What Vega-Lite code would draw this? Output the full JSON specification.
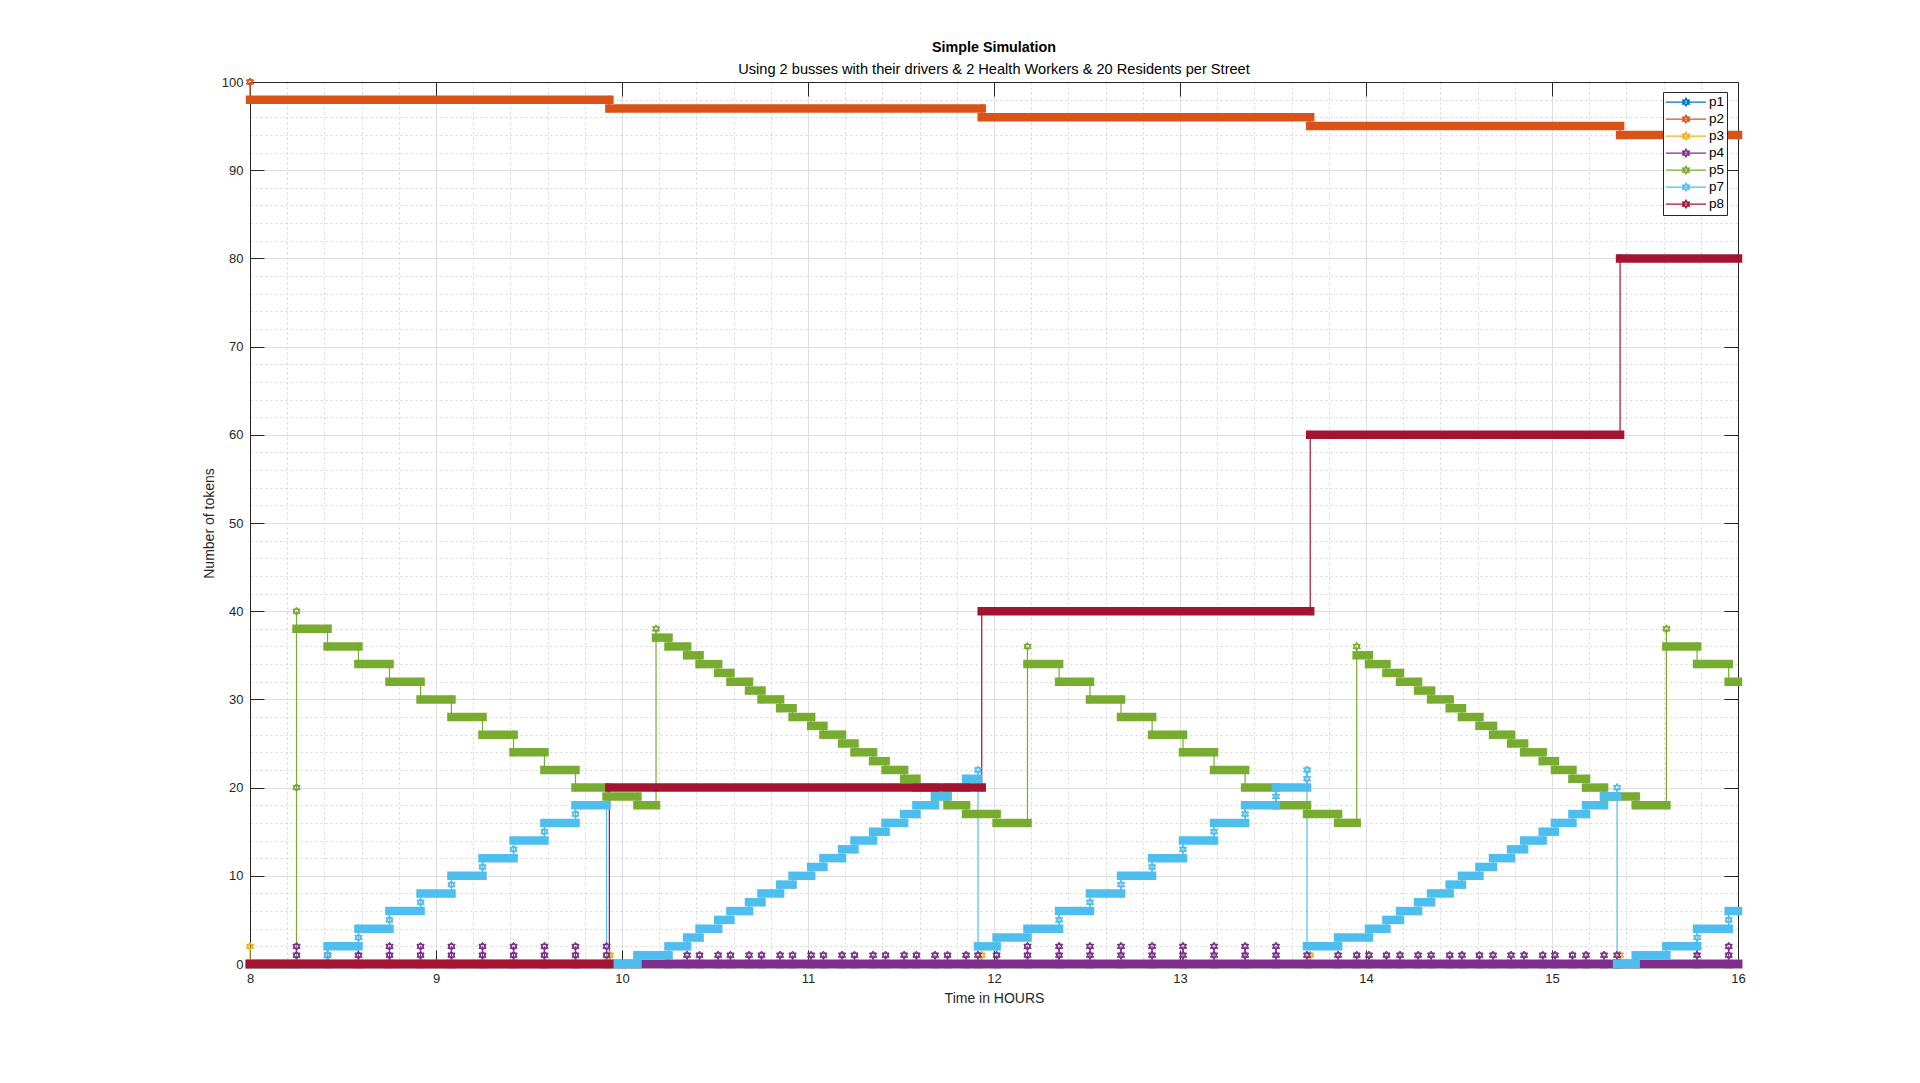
{
 "$schema": "https://vega.github.io/schema/vega-lite/v6.json",
 "width": 1488, "height": 882,
 "autosize": {"type": "none"},
 "padding": {"left": 250, "top": 82, "right": 182, "bottom": 119},
 "background": "white",
 "title": {"text": "Simple Simulation", "subtitle": "Using 2 busses with their drivers & 2 Health Workers & 20 Residents per Street", "anchor": "middle", "font": "Liberation Sans", "fontSize": 14.3, "fontWeight": "bold", "color": "#000000", "subtitleFont": "Liberation Sans", "subtitleFontSize": 14.6, "subtitleColor": "#000000", "subtitlePadding": 7, "offset": -1},
 "data": {"values": [
  {"s":"p1","i":0,"a":8,"b":16,"v":0},
  {"s":"p2","i":0,"a":8,"b":8,"v":100},
  {"s":"p2","i":1,"a":8,"b":9.932,"v":98},
  {"s":"p2","i":2,"a":9.932,"b":11.934,"v":97},
  {"s":"p2","i":3,"a":11.934,"b":13.7,"v":96},
  {"s":"p2","i":4,"a":13.7,"b":15.366,"v":95},
  {"s":"p2","i":5,"a":15.366,"b":16,"v":94},
  {"s":"p3","i":0,"a":8,"b":8,"v":2},
  {"s":"p3","i":1,"a":8,"b":9.935,"v":0},
  {"s":"p3","i":2,"a":9.935,"b":9.935,"v":1},
  {"s":"p3","i":3,"a":9.935,"b":11.934,"v":0},
  {"s":"p3","i":4,"a":11.934,"b":11.934,"v":1},
  {"s":"p3","i":5,"a":11.934,"b":13.7,"v":0},
  {"s":"p3","i":6,"a":13.7,"b":13.7,"v":1},
  {"s":"p3","i":7,"a":13.7,"b":15.366,"v":0},
  {"s":"p3","i":8,"a":15.366,"b":15.366,"v":1},
  {"s":"p3","i":9,"a":15.366,"b":16,"v":0},
  {"s":"p4","i":0,"a":8,"b":8.25,"v":0},
  {"s":"p4","i":1,"a":8.25,"b":8.25,"v":1},
  {"s":"p4","i":2,"a":8.25,"b":8.25,"v":2},
  {"s":"p4","i":3,"a":8.25,"b":8.417,"v":0},
  {"s":"p4","i":4,"a":8.417,"b":8.417,"v":1},
  {"s":"p4","i":5,"a":8.417,"b":8.417,"v":2},
  {"s":"p4","i":6,"a":8.417,"b":8.583,"v":0},
  {"s":"p4","i":7,"a":8.583,"b":8.583,"v":1},
  {"s":"p4","i":8,"a":8.583,"b":8.583,"v":2},
  {"s":"p4","i":9,"a":8.583,"b":8.75,"v":0},
  {"s":"p4","i":10,"a":8.75,"b":8.75,"v":1},
  {"s":"p4","i":11,"a":8.75,"b":8.75,"v":2},
  {"s":"p4","i":12,"a":8.75,"b":8.917,"v":0},
  {"s":"p4","i":13,"a":8.917,"b":8.917,"v":1},
  {"s":"p4","i":14,"a":8.917,"b":8.917,"v":2},
  {"s":"p4","i":15,"a":8.917,"b":9.083,"v":0},
  {"s":"p4","i":16,"a":9.083,"b":9.083,"v":1},
  {"s":"p4","i":17,"a":9.083,"b":9.083,"v":2},
  {"s":"p4","i":18,"a":9.083,"b":9.25,"v":0},
  {"s":"p4","i":19,"a":9.25,"b":9.25,"v":1},
  {"s":"p4","i":20,"a":9.25,"b":9.25,"v":2},
  {"s":"p4","i":21,"a":9.25,"b":9.417,"v":0},
  {"s":"p4","i":22,"a":9.417,"b":9.417,"v":1},
  {"s":"p4","i":23,"a":9.417,"b":9.417,"v":2},
  {"s":"p4","i":24,"a":9.417,"b":9.583,"v":0},
  {"s":"p4","i":25,"a":9.583,"b":9.583,"v":1},
  {"s":"p4","i":26,"a":9.583,"b":9.583,"v":2},
  {"s":"p4","i":27,"a":9.583,"b":9.75,"v":0},
  {"s":"p4","i":28,"a":9.75,"b":9.75,"v":1},
  {"s":"p4","i":29,"a":9.75,"b":9.75,"v":2},
  {"s":"p4","i":30,"a":9.75,"b":9.917,"v":0},
  {"s":"p4","i":31,"a":9.917,"b":9.917,"v":1},
  {"s":"p4","i":32,"a":9.917,"b":9.917,"v":2},
  {"s":"p4","i":33,"a":9.917,"b":10.25,"v":0},
  {"s":"p4","i":34,"a":10.25,"b":10.25,"v":1},
  {"s":"p4","i":35,"a":10.25,"b":10.35,"v":0},
  {"s":"p4","i":36,"a":10.35,"b":10.35,"v":1},
  {"s":"p4","i":37,"a":10.35,"b":10.417,"v":0},
  {"s":"p4","i":38,"a":10.417,"b":10.417,"v":1},
  {"s":"p4","i":39,"a":10.417,"b":10.517,"v":0},
  {"s":"p4","i":40,"a":10.517,"b":10.517,"v":1},
  {"s":"p4","i":41,"a":10.517,"b":10.583,"v":0},
  {"s":"p4","i":42,"a":10.583,"b":10.583,"v":1},
  {"s":"p4","i":43,"a":10.583,"b":10.683,"v":0},
  {"s":"p4","i":44,"a":10.683,"b":10.683,"v":1},
  {"s":"p4","i":45,"a":10.683,"b":10.75,"v":0},
  {"s":"p4","i":46,"a":10.75,"b":10.75,"v":1},
  {"s":"p4","i":47,"a":10.75,"b":10.85,"v":0},
  {"s":"p4","i":48,"a":10.85,"b":10.85,"v":1},
  {"s":"p4","i":49,"a":10.85,"b":10.917,"v":0},
  {"s":"p4","i":50,"a":10.917,"b":10.917,"v":1},
  {"s":"p4","i":51,"a":10.917,"b":11.017,"v":0},
  {"s":"p4","i":52,"a":11.017,"b":11.017,"v":1},
  {"s":"p4","i":53,"a":11.017,"b":11.083,"v":0},
  {"s":"p4","i":54,"a":11.083,"b":11.083,"v":1},
  {"s":"p4","i":55,"a":11.083,"b":11.183,"v":0},
  {"s":"p4","i":56,"a":11.183,"b":11.183,"v":1},
  {"s":"p4","i":57,"a":11.183,"b":11.25,"v":0},
  {"s":"p4","i":58,"a":11.25,"b":11.25,"v":1},
  {"s":"p4","i":59,"a":11.25,"b":11.35,"v":0},
  {"s":"p4","i":60,"a":11.35,"b":11.35,"v":1},
  {"s":"p4","i":61,"a":11.35,"b":11.417,"v":0},
  {"s":"p4","i":62,"a":11.417,"b":11.417,"v":1},
  {"s":"p4","i":63,"a":11.417,"b":11.517,"v":0},
  {"s":"p4","i":64,"a":11.517,"b":11.517,"v":1},
  {"s":"p4","i":65,"a":11.517,"b":11.583,"v":0},
  {"s":"p4","i":66,"a":11.583,"b":11.583,"v":1},
  {"s":"p4","i":67,"a":11.583,"b":11.683,"v":0},
  {"s":"p4","i":68,"a":11.683,"b":11.683,"v":1},
  {"s":"p4","i":69,"a":11.683,"b":11.75,"v":0},
  {"s":"p4","i":70,"a":11.75,"b":11.75,"v":1},
  {"s":"p4","i":71,"a":11.75,"b":11.85,"v":0},
  {"s":"p4","i":72,"a":11.85,"b":11.85,"v":1},
  {"s":"p4","i":73,"a":11.85,"b":11.914,"v":0},
  {"s":"p4","i":74,"a":11.914,"b":11.914,"v":1},
  {"s":"p4","i":75,"a":11.914,"b":12.014,"v":0},
  {"s":"p4","i":76,"a":12.014,"b":12.014,"v":1},
  {"s":"p4","i":77,"a":12.014,"b":12.18,"v":0},
  {"s":"p4","i":78,"a":12.18,"b":12.18,"v":1},
  {"s":"p4","i":79,"a":12.18,"b":12.18,"v":2},
  {"s":"p4","i":80,"a":12.18,"b":12.35,"v":0},
  {"s":"p4","i":81,"a":12.35,"b":12.35,"v":1},
  {"s":"p4","i":82,"a":12.35,"b":12.35,"v":2},
  {"s":"p4","i":83,"a":12.35,"b":12.516,"v":0},
  {"s":"p4","i":84,"a":12.516,"b":12.516,"v":1},
  {"s":"p4","i":85,"a":12.516,"b":12.516,"v":2},
  {"s":"p4","i":86,"a":12.516,"b":12.683,"v":0},
  {"s":"p4","i":87,"a":12.683,"b":12.683,"v":1},
  {"s":"p4","i":88,"a":12.683,"b":12.683,"v":2},
  {"s":"p4","i":89,"a":12.683,"b":12.85,"v":0},
  {"s":"p4","i":90,"a":12.85,"b":12.85,"v":1},
  {"s":"p4","i":91,"a":12.85,"b":12.85,"v":2},
  {"s":"p4","i":92,"a":12.85,"b":13.016,"v":0},
  {"s":"p4","i":93,"a":13.016,"b":13.016,"v":1},
  {"s":"p4","i":94,"a":13.016,"b":13.016,"v":2},
  {"s":"p4","i":95,"a":13.016,"b":13.183,"v":0},
  {"s":"p4","i":96,"a":13.183,"b":13.183,"v":1},
  {"s":"p4","i":97,"a":13.183,"b":13.183,"v":2},
  {"s":"p4","i":98,"a":13.183,"b":13.35,"v":0},
  {"s":"p4","i":99,"a":13.35,"b":13.35,"v":1},
  {"s":"p4","i":100,"a":13.35,"b":13.35,"v":2},
  {"s":"p4","i":101,"a":13.35,"b":13.516,"v":0},
  {"s":"p4","i":102,"a":13.516,"b":13.516,"v":1},
  {"s":"p4","i":103,"a":13.516,"b":13.516,"v":2},
  {"s":"p4","i":104,"a":13.516,"b":13.683,"v":0},
  {"s":"p4","i":105,"a":13.683,"b":13.683,"v":1},
  {"s":"p4","i":106,"a":13.683,"b":13.85,"v":0},
  {"s":"p4","i":107,"a":13.85,"b":13.85,"v":1},
  {"s":"p4","i":108,"a":13.85,"b":13.95,"v":0},
  {"s":"p4","i":109,"a":13.95,"b":13.95,"v":1},
  {"s":"p4","i":110,"a":13.95,"b":14.016,"v":0},
  {"s":"p4","i":111,"a":14.016,"b":14.016,"v":1},
  {"s":"p4","i":112,"a":14.016,"b":14.11,"v":0},
  {"s":"p4","i":113,"a":14.11,"b":14.11,"v":1},
  {"s":"p4","i":114,"a":14.11,"b":14.183,"v":0},
  {"s":"p4","i":115,"a":14.183,"b":14.183,"v":1},
  {"s":"p4","i":116,"a":14.183,"b":14.28,"v":0},
  {"s":"p4","i":117,"a":14.28,"b":14.28,"v":1},
  {"s":"p4","i":118,"a":14.28,"b":14.35,"v":0},
  {"s":"p4","i":119,"a":14.35,"b":14.35,"v":1},
  {"s":"p4","i":120,"a":14.35,"b":14.45,"v":0},
  {"s":"p4","i":121,"a":14.45,"b":14.45,"v":1},
  {"s":"p4","i":122,"a":14.45,"b":14.516,"v":0},
  {"s":"p4","i":123,"a":14.516,"b":14.516,"v":1},
  {"s":"p4","i":124,"a":14.516,"b":14.61,"v":0},
  {"s":"p4","i":125,"a":14.61,"b":14.61,"v":1},
  {"s":"p4","i":126,"a":14.61,"b":14.683,"v":0},
  {"s":"p4","i":127,"a":14.683,"b":14.683,"v":1},
  {"s":"p4","i":128,"a":14.683,"b":14.78,"v":0},
  {"s":"p4","i":129,"a":14.78,"b":14.78,"v":1},
  {"s":"p4","i":130,"a":14.78,"b":14.85,"v":0},
  {"s":"p4","i":131,"a":14.85,"b":14.85,"v":1},
  {"s":"p4","i":132,"a":14.85,"b":14.95,"v":0},
  {"s":"p4","i":133,"a":14.95,"b":14.95,"v":1},
  {"s":"p4","i":134,"a":14.95,"b":15.016,"v":0},
  {"s":"p4","i":135,"a":15.016,"b":15.016,"v":1},
  {"s":"p4","i":136,"a":15.016,"b":15.11,"v":0},
  {"s":"p4","i":137,"a":15.11,"b":15.11,"v":1},
  {"s":"p4","i":138,"a":15.11,"b":15.183,"v":0},
  {"s":"p4","i":139,"a":15.183,"b":15.183,"v":1},
  {"s":"p4","i":140,"a":15.183,"b":15.28,"v":0},
  {"s":"p4","i":141,"a":15.28,"b":15.28,"v":1},
  {"s":"p4","i":142,"a":15.28,"b":15.35,"v":0},
  {"s":"p4","i":143,"a":15.35,"b":15.35,"v":1},
  {"s":"p4","i":144,"a":15.35,"b":15.78,"v":0},
  {"s":"p4","i":145,"a":15.78,"b":15.78,"v":1},
  {"s":"p4","i":146,"a":15.78,"b":15.78,"v":2},
  {"s":"p4","i":147,"a":15.78,"b":15.95,"v":0},
  {"s":"p4","i":148,"a":15.95,"b":15.95,"v":1},
  {"s":"p4","i":149,"a":15.95,"b":15.95,"v":2},
  {"s":"p4","i":150,"a":15.95,"b":16,"v":0},
  {"s":"p5","i":0,"a":8,"b":8.25,"v":0},
  {"s":"p5","i":1,"a":8.25,"b":8.25,"v":20},
  {"s":"p5","i":2,"a":8.25,"b":8.25,"v":40},
  {"s":"p5","i":3,"a":8.25,"b":8.417,"v":38},
  {"s":"p5","i":4,"a":8.417,"b":8.583,"v":36},
  {"s":"p5","i":5,"a":8.583,"b":8.75,"v":34},
  {"s":"p5","i":6,"a":8.75,"b":8.917,"v":32},
  {"s":"p5","i":7,"a":8.917,"b":9.083,"v":30},
  {"s":"p5","i":8,"a":9.083,"b":9.25,"v":28},
  {"s":"p5","i":9,"a":9.25,"b":9.417,"v":26},
  {"s":"p5","i":10,"a":9.417,"b":9.583,"v":24},
  {"s":"p5","i":11,"a":9.583,"b":9.75,"v":22},
  {"s":"p5","i":12,"a":9.75,"b":9.917,"v":20},
  {"s":"p5","i":13,"a":9.917,"b":10.083,"v":19},
  {"s":"p5","i":14,"a":10.083,"b":10.183,"v":18},
  {"s":"p5","i":15,"a":10.183,"b":10.183,"v":38},
  {"s":"p5","i":16,"a":10.183,"b":10.25,"v":37},
  {"s":"p5","i":17,"a":10.25,"b":10.35,"v":36},
  {"s":"p5","i":18,"a":10.35,"b":10.417,"v":35},
  {"s":"p5","i":19,"a":10.417,"b":10.517,"v":34},
  {"s":"p5","i":20,"a":10.517,"b":10.583,"v":33},
  {"s":"p5","i":21,"a":10.583,"b":10.683,"v":32},
  {"s":"p5","i":22,"a":10.683,"b":10.75,"v":31},
  {"s":"p5","i":23,"a":10.75,"b":10.85,"v":30},
  {"s":"p5","i":24,"a":10.85,"b":10.917,"v":29},
  {"s":"p5","i":25,"a":10.917,"b":11.017,"v":28},
  {"s":"p5","i":26,"a":11.017,"b":11.083,"v":27},
  {"s":"p5","i":27,"a":11.083,"b":11.183,"v":26},
  {"s":"p5","i":28,"a":11.183,"b":11.25,"v":25},
  {"s":"p5","i":29,"a":11.25,"b":11.35,"v":24},
  {"s":"p5","i":30,"a":11.35,"b":11.417,"v":23},
  {"s":"p5","i":31,"a":11.417,"b":11.517,"v":22},
  {"s":"p5","i":32,"a":11.517,"b":11.583,"v":21},
  {"s":"p5","i":33,"a":11.583,"b":11.683,"v":20},
  {"s":"p5","i":34,"a":11.683,"b":11.75,"v":19},
  {"s":"p5","i":35,"a":11.75,"b":11.85,"v":18},
  {"s":"p5","i":36,"a":11.85,"b":12.014,"v":17},
  {"s":"p5","i":37,"a":12.014,"b":12.18,"v":16},
  {"s":"p5","i":38,"a":12.18,"b":12.18,"v":36},
  {"s":"p5","i":39,"a":12.18,"b":12.35,"v":34},
  {"s":"p5","i":40,"a":12.35,"b":12.516,"v":32},
  {"s":"p5","i":41,"a":12.516,"b":12.683,"v":30},
  {"s":"p5","i":42,"a":12.683,"b":12.85,"v":28},
  {"s":"p5","i":43,"a":12.85,"b":13.016,"v":26},
  {"s":"p5","i":44,"a":13.016,"b":13.183,"v":24},
  {"s":"p5","i":45,"a":13.183,"b":13.35,"v":22},
  {"s":"p5","i":46,"a":13.35,"b":13.516,"v":20},
  {"s":"p5","i":47,"a":13.516,"b":13.683,"v":18},
  {"s":"p5","i":48,"a":13.683,"b":13.85,"v":17},
  {"s":"p5","i":49,"a":13.85,"b":13.95,"v":16},
  {"s":"p5","i":50,"a":13.95,"b":13.95,"v":36},
  {"s":"p5","i":51,"a":13.95,"b":14.016,"v":35},
  {"s":"p5","i":52,"a":14.016,"b":14.11,"v":34},
  {"s":"p5","i":53,"a":14.11,"b":14.183,"v":33},
  {"s":"p5","i":54,"a":14.183,"b":14.28,"v":32},
  {"s":"p5","i":55,"a":14.28,"b":14.35,"v":31},
  {"s":"p5","i":56,"a":14.35,"b":14.45,"v":30},
  {"s":"p5","i":57,"a":14.45,"b":14.516,"v":29},
  {"s":"p5","i":58,"a":14.516,"b":14.61,"v":28},
  {"s":"p5","i":59,"a":14.61,"b":14.683,"v":27},
  {"s":"p5","i":60,"a":14.683,"b":14.78,"v":26},
  {"s":"p5","i":61,"a":14.78,"b":14.85,"v":25},
  {"s":"p5","i":62,"a":14.85,"b":14.95,"v":24},
  {"s":"p5","i":63,"a":14.95,"b":15.016,"v":23},
  {"s":"p5","i":64,"a":15.016,"b":15.11,"v":22},
  {"s":"p5","i":65,"a":15.11,"b":15.183,"v":21},
  {"s":"p5","i":66,"a":15.183,"b":15.28,"v":20},
  {"s":"p5","i":67,"a":15.28,"b":15.45,"v":19},
  {"s":"p5","i":68,"a":15.45,"b":15.615,"v":18},
  {"s":"p5","i":69,"a":15.615,"b":15.615,"v":38},
  {"s":"p5","i":70,"a":15.615,"b":15.78,"v":36},
  {"s":"p5","i":71,"a":15.78,"b":15.95,"v":34},
  {"s":"p5","i":72,"a":15.95,"b":16,"v":32},
  {"s":"p7","i":0,"a":8,"b":8.417,"v":0},
  {"s":"p7","i":1,"a":8.417,"b":8.417,"v":1},
  {"s":"p7","i":2,"a":8.417,"b":8.583,"v":2},
  {"s":"p7","i":3,"a":8.583,"b":8.583,"v":3},
  {"s":"p7","i":4,"a":8.583,"b":8.75,"v":4},
  {"s":"p7","i":5,"a":8.75,"b":8.75,"v":5},
  {"s":"p7","i":6,"a":8.75,"b":8.917,"v":6},
  {"s":"p7","i":7,"a":8.917,"b":8.917,"v":7},
  {"s":"p7","i":8,"a":8.917,"b":9.083,"v":8},
  {"s":"p7","i":9,"a":9.083,"b":9.083,"v":9},
  {"s":"p7","i":10,"a":9.083,"b":9.25,"v":10},
  {"s":"p7","i":11,"a":9.25,"b":9.25,"v":11},
  {"s":"p7","i":12,"a":9.25,"b":9.417,"v":12},
  {"s":"p7","i":13,"a":9.417,"b":9.417,"v":13},
  {"s":"p7","i":14,"a":9.417,"b":9.583,"v":14},
  {"s":"p7","i":15,"a":9.583,"b":9.583,"v":15},
  {"s":"p7","i":16,"a":9.583,"b":9.75,"v":16},
  {"s":"p7","i":17,"a":9.75,"b":9.75,"v":17},
  {"s":"p7","i":18,"a":9.75,"b":9.917,"v":18},
  {"s":"p7","i":19,"a":9.917,"b":9.917,"v":19},
  {"s":"p7","i":20,"a":9.917,"b":9.917,"v":20},
  {"s":"p7","i":21,"a":9.917,"b":10.083,"v":0},
  {"s":"p7","i":22,"a":10.083,"b":10.25,"v":1},
  {"s":"p7","i":23,"a":10.25,"b":10.35,"v":2},
  {"s":"p7","i":24,"a":10.35,"b":10.417,"v":3},
  {"s":"p7","i":25,"a":10.417,"b":10.517,"v":4},
  {"s":"p7","i":26,"a":10.517,"b":10.583,"v":5},
  {"s":"p7","i":27,"a":10.583,"b":10.683,"v":6},
  {"s":"p7","i":28,"a":10.683,"b":10.75,"v":7},
  {"s":"p7","i":29,"a":10.75,"b":10.85,"v":8},
  {"s":"p7","i":30,"a":10.85,"b":10.917,"v":9},
  {"s":"p7","i":31,"a":10.917,"b":11.017,"v":10},
  {"s":"p7","i":32,"a":11.017,"b":11.083,"v":11},
  {"s":"p7","i":33,"a":11.083,"b":11.183,"v":12},
  {"s":"p7","i":34,"a":11.183,"b":11.25,"v":13},
  {"s":"p7","i":35,"a":11.25,"b":11.35,"v":14},
  {"s":"p7","i":36,"a":11.35,"b":11.417,"v":15},
  {"s":"p7","i":37,"a":11.417,"b":11.517,"v":16},
  {"s":"p7","i":38,"a":11.517,"b":11.583,"v":17},
  {"s":"p7","i":39,"a":11.583,"b":11.683,"v":18},
  {"s":"p7","i":40,"a":11.683,"b":11.75,"v":19},
  {"s":"p7","i":41,"a":11.75,"b":11.85,"v":20},
  {"s":"p7","i":42,"a":11.85,"b":11.914,"v":21},
  {"s":"p7","i":43,"a":11.914,"b":11.914,"v":22},
  {"s":"p7","i":44,"a":11.914,"b":12.014,"v":2},
  {"s":"p7","i":45,"a":12.014,"b":12.18,"v":3},
  {"s":"p7","i":46,"a":12.18,"b":12.35,"v":4},
  {"s":"p7","i":47,"a":12.35,"b":12.35,"v":5},
  {"s":"p7","i":48,"a":12.35,"b":12.516,"v":6},
  {"s":"p7","i":49,"a":12.516,"b":12.516,"v":7},
  {"s":"p7","i":50,"a":12.516,"b":12.683,"v":8},
  {"s":"p7","i":51,"a":12.683,"b":12.683,"v":9},
  {"s":"p7","i":52,"a":12.683,"b":12.85,"v":10},
  {"s":"p7","i":53,"a":12.85,"b":12.85,"v":11},
  {"s":"p7","i":54,"a":12.85,"b":13.016,"v":12},
  {"s":"p7","i":55,"a":13.016,"b":13.016,"v":13},
  {"s":"p7","i":56,"a":13.016,"b":13.183,"v":14},
  {"s":"p7","i":57,"a":13.183,"b":13.183,"v":15},
  {"s":"p7","i":58,"a":13.183,"b":13.35,"v":16},
  {"s":"p7","i":59,"a":13.35,"b":13.35,"v":17},
  {"s":"p7","i":60,"a":13.35,"b":13.516,"v":18},
  {"s":"p7","i":61,"a":13.516,"b":13.516,"v":19},
  {"s":"p7","i":62,"a":13.516,"b":13.683,"v":20},
  {"s":"p7","i":63,"a":13.683,"b":13.683,"v":21},
  {"s":"p7","i":64,"a":13.683,"b":13.683,"v":22},
  {"s":"p7","i":65,"a":13.683,"b":13.85,"v":2},
  {"s":"p7","i":66,"a":13.85,"b":14.016,"v":3},
  {"s":"p7","i":67,"a":14.016,"b":14.11,"v":4},
  {"s":"p7","i":68,"a":14.11,"b":14.183,"v":5},
  {"s":"p7","i":69,"a":14.183,"b":14.28,"v":6},
  {"s":"p7","i":70,"a":14.28,"b":14.35,"v":7},
  {"s":"p7","i":71,"a":14.35,"b":14.45,"v":8},
  {"s":"p7","i":72,"a":14.45,"b":14.516,"v":9},
  {"s":"p7","i":73,"a":14.516,"b":14.61,"v":10},
  {"s":"p7","i":74,"a":14.61,"b":14.683,"v":11},
  {"s":"p7","i":75,"a":14.683,"b":14.78,"v":12},
  {"s":"p7","i":76,"a":14.78,"b":14.85,"v":13},
  {"s":"p7","i":77,"a":14.85,"b":14.95,"v":14},
  {"s":"p7","i":78,"a":14.95,"b":15.016,"v":15},
  {"s":"p7","i":79,"a":15.016,"b":15.11,"v":16},
  {"s":"p7","i":80,"a":15.11,"b":15.183,"v":17},
  {"s":"p7","i":81,"a":15.183,"b":15.28,"v":18},
  {"s":"p7","i":82,"a":15.28,"b":15.35,"v":19},
  {"s":"p7","i":83,"a":15.35,"b":15.35,"v":20},
  {"s":"p7","i":84,"a":15.35,"b":15.45,"v":0},
  {"s":"p7","i":85,"a":15.45,"b":15.615,"v":1},
  {"s":"p7","i":86,"a":15.615,"b":15.78,"v":2},
  {"s":"p7","i":87,"a":15.78,"b":15.78,"v":3},
  {"s":"p7","i":88,"a":15.78,"b":15.95,"v":4},
  {"s":"p7","i":89,"a":15.95,"b":15.95,"v":5},
  {"s":"p7","i":90,"a":15.95,"b":16,"v":6},
  {"s":"p8","i":0,"a":8,"b":9.932,"v":0},
  {"s":"p8","i":1,"a":9.932,"b":11.934,"v":20},
  {"s":"p8","i":2,"a":11.934,"b":13.7,"v":40},
  {"s":"p8","i":3,"a":13.7,"b":15.366,"v":60},
  {"s":"p8","i":4,"a":15.366,"b":16,"v":80}
 ]},
 "layer": [
  {
   "transform": [{"fold": ["a", "b"], "as": ["k", "t"]}],
   "mark": {"type": "line", "strokeWidth": 1.2},
   "encoding": {
    "x": {"field": "t", "type": "quantitative", "scale": {"domain": [8, 16], "nice": false, "zero": false},
     "axis": {"orient": "bottom", "values": [8,8.2,8.4,8.6,8.8,9,9.2,9.4,9.6,9.8,10,10.2,10.4,10.6,10.8,11,11.2,11.4,11.6,11.8,12,12.2,12.4,12.6,12.8,13,13.2,13.4,13.6,13.8,14,14.2,14.4,14.6,14.8,15,15.2,15.4,15.6,15.8,16],
      "format": ".0f", "labelExpr": "datum.value % 1 === 0 ? datum.label : ''", "labelOverlap": false, "labelFlush": false, "labelPadding": 22,
      "tickSize": -14, "tickOpacity": {"condition": {"test": "datum.value % 1 !== 0", "value": 0}, "value": 1},
      "grid": true, "gridColor": {"condition": {"test": "datum.value % 1 !== 0", "value": "#d6d6d6"}, "value": "#dedede"},
      "gridDash": {"condition": {"test": "datum.value % 1 !== 0", "value": [2, 3]}, "value": []},
      "title": "Time in HOURS", "titleX": 744, "titleY": 34, "titleBaseline": "middle", "titleAlign": "center"}},
    "y": {"field": "v", "type": "quantitative", "scale": {"domain": [0, 100], "nice": false},
     "axis": {"orient": "left", "values": [0,2,4,6,8,10,12,14,16,18,20,22,24,26,28,30,32,34,36,38,40,42,44,46,48,50,52,54,56,58,60,62,64,66,68,70,72,74,76,78,80,82,84,86,88,90,92,94,96,98,100],
      "format": ".0f", "labelExpr": "datum.value % 10 === 0 ? datum.label : ''", "labelOverlap": false, "labelFlush": false, "labelPadding": 21,
      "tickSize": -14, "tickOpacity": {"condition": {"test": "datum.value % 10 !== 0", "value": 0}, "value": 1},
      "grid": true, "gridColor": {"condition": {"test": "datum.value % 10 !== 0", "value": "#d6d6d6"}, "value": "#dedede"},
      "gridDash": {"condition": {"test": "datum.value % 10 !== 0", "value": [2, 3]}, "value": []},
      "title": "Number of tokens", "titleX": -41, "titleY": 441, "titleAngle": -90, "titleBaseline": "middle", "titleAlign": "center"}},
    "color": {"field": "s", "type": "nominal",
     "scale": {"domain": ["p1","p2","p3","p4","p5","p7","p8"], "range": ["#0072BD","#D95319","#EDB120","#7E2F8E","#77AC30","#4DBEEE","#A2142F"]},
     "legend": {"orient": "none", "legendX": 1413, "legendY": 10, "title": null,
      "symbolType": "M-1,0L1,0M0,-0.2L0.173,0.1L-0.173,0.1ZM0,0.2L0.173,-0.1L-0.173,-0.1Z", "symbolSize": 1600, "symbolStrokeWidth": 1.2, "symbolFillColor": "transparent",
      "labelFont": "Liberation Sans", "labelFontSize": 13.5, "labelColor": "#000000", "labelOffset": 2,
      "clipHeight": 16.1, "rowPadding": 0,
      "strokeColor": "#262626", "fillColor": "white", "padding": 2}},
    "order": [{"field": "i", "type": "quantitative"}, {"field": "k", "type": "ordinal"}]
   }
  },
  {
   "transform": [{"fold": ["a", "b"], "as": ["k", "t"]}],
   "mark": {"type": "point", "shape": "M0,-1L0.866,0.5L-0.866,0.5ZM0,1L0.866,-0.5L-0.866,-0.5Z", "filled": false, "size": 64, "strokeWidth": 1, "opacity": 1},
   "encoding": {
    "x": {"field": "t", "type": "quantitative", "scale": {"domain": [8, 16], "nice": false, "zero": false},
     "axis": {"orient": "top", "values": [8,9,10,11,12,13,14,15,16], "labels": false, "grid": false, "tickSize": -14, "title": null}},
    "y": {"field": "v", "type": "quantitative", "scale": {"domain": [0, 100], "nice": false},
     "axis": {"orient": "right", "values": [0,10,20,30,40,50,60,70,80,90,100], "labels": false, "grid": false, "tickSize": -14, "title": null}},
    "color": {"field": "s", "type": "nominal", "legend": null}
   }
  },
  {
   "transform": [{"filter": "datum.b > datum.a"}],
   "mark": {"type": "rule", "strokeWidth": 8.5, "strokeCap": "square"},
   "encoding": {
    "x": {"field": "a", "type": "quantitative", "axis": null},
    "x2": {"field": "b"},
    "y": {"field": "v", "type": "quantitative", "axis": null},
    "color": {"field": "s", "type": "nominal", "legend": null}
   }
  }
 ],
 "resolve": {"axis": {"x": "independent", "y": "independent"}},
 "config": {
  "font": "Liberation Sans",
  "view": {"stroke": null},
  "axis": {"labelFont": "Liberation Sans", "titleFont": "Liberation Sans", "labelFontSize": 13, "titleFontSize": 14, "titleFontWeight": "normal", "labelColor": "#262626", "titleColor": "#262626", "domainColor": "#262626", "domainWidth": 1, "tickColor": "#262626", "tickWidth": 1}
 }
}
